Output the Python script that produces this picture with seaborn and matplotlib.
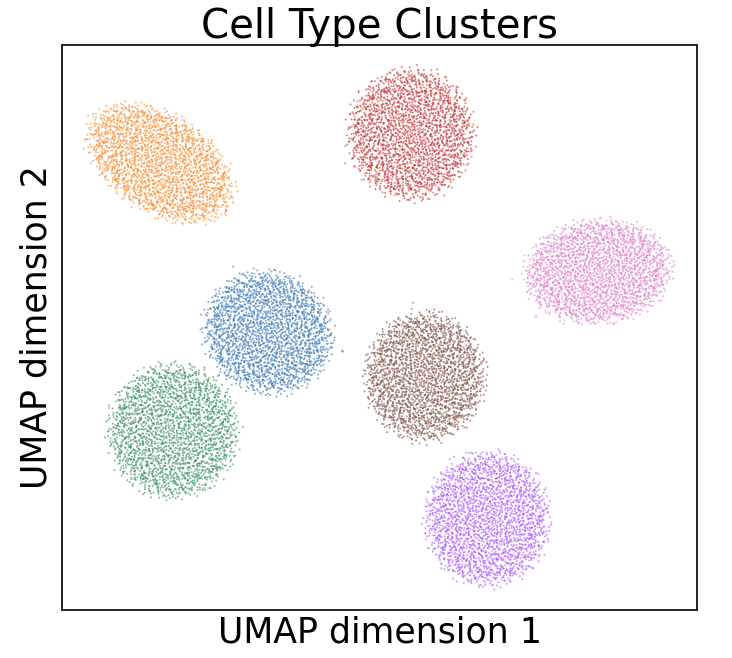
import numpy as np
import pandas as pd
import matplotlib
matplotlib.use("Agg")
import matplotlib.pyplot as plt
import seaborn as sns

# ---- data (UMAP units) ----
cluster_names = ["0", "1", "2", "3", "4", "5", "6"]
center_x = [4.49, 1.09, 1.50, 8.99, 11.39, 9.43, 14.88]
center_y = [6.84, 12.23, 3.71, 13.16, 0.90, 5.43, 8.78]
semi_a = [2.00, 2.46, 1.98, 1.92, 1.89, 1.83, 2.24]
semi_b = [1.85, 1.50, 2.07, 2.01, 2.07, 1.98, 1.60]
tilt_deg = [-30, -33, 0, 0, 0, 0, 5]
n_cells = [2400, 2400, 2400, 2400, 2400, 2400, 2400]
colors = ["#2f72b0", "#f5892a", "#2e8b57", "#c0302d", "#a855f7", "#7a4b3c", "#db7cc9"]

stray_x = [3.39, 6.85, 3.17, 1.65, 2.79, 12.18, 12.93, 6.91, 3.17, 9.06, 9.72, 6.82]
stray_y = [8.94, 6.23, 5.46, 4.38, 4.32, 8.53, 7.35, 12.23, 10.70, 7.79, 7.57, 6.26]
stray_cluster = ["3", "3", "3", "4", "4", "6", "4", "0", "3", "3", "3", "5"]


def radical_inverse(i, base):
    f, r = 1.0, 0.0
    while i > 0:
        f /= base
        r += f * (i % base)
        i //= base
    return r


rows = []
for k, name in enumerate(cluster_names):
    start = 1 + k * 3001
    idx = np.arange(start, start + n_cells[k])
    u = np.array([radical_inverse(int(i), 2) for i in idx])
    v = np.array([radical_inverse(int(i), 3) for i in idx])
    w = np.array([radical_inverse(int(i), 5) for i in idx])
    r = np.sqrt(u) * (0.88 + 0.24 * w)
    th = 2 * np.pi * v
    ex = semi_a[k] * r * np.cos(th)
    ey = semi_b[k] * r * np.sin(th)
    t = np.deg2rad(tilt_deg[k])
    px = center_x[k] + ex * np.cos(t) - ey * np.sin(t)
    py = center_y[k] + ex * np.sin(t) + ey * np.cos(t)
    rows.append(pd.DataFrame({"x": px, "y": py, "cluster": name}))
rows.append(pd.DataFrame({"x": stray_x, "y": stray_y, "cluster": stray_cluster}))
df = pd.concat(rows, ignore_index=True)

sns.set_style("white")
plt.rcParams["text.color"] = "black"
plt.rcParams["axes.labelcolor"] = "black"
fig = plt.figure(figsize=(7.32, 6.58), dpi=100)
ax = fig.add_axes([62 / 732, 48 / 658, 635 / 732, 565 / 658])
sns.scatterplot(data=df, x="x", y="y", hue="cluster", hue_order=cluster_names,
                palette=colors, s=2.0, alpha=0.6, linewidth=0, legend=False, ax=ax)
ax.set_xlim(-2, 18)
ax.set_ylim(-2, 16)
ax.set_xticks([])
ax.set_yticks([])
for sp in ax.spines.values():
    sp.set_color("#222222")
    sp.set_linewidth(1.4)
ax.set_title("Cell Type Clusters", fontsize=29, pad=5, color="black")
ax.set_xlabel("UMAP dimension 1", fontsize=25, labelpad=4, color="black")
ax.set_ylabel("UMAP dimension 2", fontsize=25, labelpad=6, color="black")
fig.savefig("out.png", dpi=100)
